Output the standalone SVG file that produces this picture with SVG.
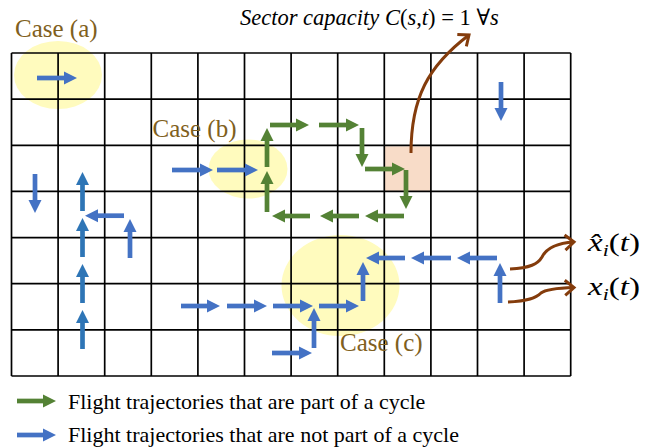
<svg xmlns="http://www.w3.org/2000/svg" width="668" height="448" viewBox="0 0 668 448">
<style>
.grid line{stroke:#000;stroke-width:1.7}
.b{stroke:#4472C4;stroke-width:4.7;marker-end:url(#hb)}
.d{stroke:#2E75B6;stroke-width:4.7;marker-end:url(#hd)}
.g{stroke:#548235;stroke-width:4.7;marker-end:url(#hg)}
.br{stroke:#843C0C;stroke-width:3;fill:none;marker-end:url(#hbr)}
.case{font-size:25px;fill:#7F6020}
.leg{font-size:22px;fill:#000}
.it{font-style:italic}
.hl{fill:#FFFBBE}
</style>
<defs>
<marker id="hb" markerUnits="userSpaceOnUse" markerWidth="14" markerHeight="14" refX="0" refY="7" orient="auto" overflow="visible"><path d="M0,0.5 L13,7 L0,13.5 z" fill="#4472C4"/></marker>
<marker id="hd" markerUnits="userSpaceOnUse" markerWidth="14" markerHeight="14" refX="0" refY="7" orient="auto" overflow="visible"><path d="M0,0.5 L13,7 L0,13.5 z" fill="#2E75B6"/></marker>
<marker id="hg" markerUnits="userSpaceOnUse" markerWidth="14" markerHeight="14" refX="0" refY="7" orient="auto" overflow="visible"><path d="M0,0.5 L13,7 L0,13.5 z" fill="#548235"/></marker>
<marker id="hbr" markerUnits="userSpaceOnUse" markerWidth="16" markerHeight="16" refX="8" refY="8" orient="auto" overflow="visible"><path d="M-1,0.5 L8,8 L-1,15.5" fill="none" stroke="#843C0C" stroke-width="3"/></marker>
</defs>

<g id="highlights">
<ellipse class="hl" cx="58" cy="75" rx="44" ry="34"/>
<ellipse class="hl" cx="248" cy="169" rx="39.5" ry="29.5"/>
<ellipse class="hl" cx="340.5" cy="285.5" rx="59" ry="50.5"/>
<rect id="sector" x="384.3" y="146.3" width="46.6" height="45.6" fill="#F8DCC8"/>
</g>

<g id="grid" class="grid">
<line x1="11.5" y1="53" x2="11.5" y2="376"/>
<line x1="58.1" y1="53" x2="58.1" y2="376"/>
<line x1="104.7" y1="53" x2="104.7" y2="376"/>
<line x1="151.3" y1="53" x2="151.3" y2="376"/>
<line x1="197.9" y1="53" x2="197.9" y2="376"/>
<line x1="244.5" y1="53" x2="244.5" y2="376"/>
<line x1="291.1" y1="53" x2="291.1" y2="376"/>
<line x1="337.7" y1="53" x2="337.7" y2="376"/>
<line x1="384.3" y1="53" x2="384.3" y2="376"/>
<line x1="430.9" y1="53" x2="430.9" y2="376"/>
<line x1="477.5" y1="53" x2="477.5" y2="376"/>
<line x1="524.1" y1="53" x2="524.1" y2="376"/>
<line x1="570.7" y1="53" x2="570.7" y2="376"/>
<line x1="11.5" y1="53" x2="570.7" y2="53"/>
<line x1="11.5" y1="99.1" x2="570.7" y2="99.1"/>
<line x1="11.5" y1="145.3" x2="570.7" y2="145.3"/>
<line x1="11.5" y1="191.4" x2="570.7" y2="191.4"/>
<line x1="11.5" y1="237.6" x2="570.7" y2="237.6"/>
<line x1="11.5" y1="283.7" x2="570.7" y2="283.7"/>
<line x1="11.5" y1="329.9" x2="570.7" y2="329.9"/>
<line x1="11.5" y1="376" x2="570.7" y2="376"/>
</g>

<g id="connectors">
<line class="b" x1="37" y1="78" x2="64" y2="78"/>
<line class="b" x1="172" y1="170" x2="200" y2="170"/>
<line class="b" x1="217" y1="170" x2="245" y2="170"/>
<line class="b" x1="501" y1="82" x2="501" y2="108"/>
<line class="b" x1="35" y1="174" x2="35" y2="200"/>
<line class="d" x1="82.5" y1="211" x2="82.5" y2="185"/>
<line class="d" x1="82.5" y1="257" x2="82.5" y2="231"/>
<line class="d" x1="82.5" y1="303" x2="82.5" y2="277"/>
<line class="d" x1="82.5" y1="349" x2="82.5" y2="323"/>
<line class="b" x1="124" y1="215.7" x2="98" y2="215.7"/>
<line class="b" x1="130" y1="258" x2="130" y2="232"/>
<line class="b" x1="181" y1="306" x2="207" y2="306"/>
<line class="b" x1="227" y1="306" x2="254" y2="306"/>
<line class="b" x1="273" y1="306" x2="300" y2="306"/>
<line class="b" x1="319" y1="306" x2="346" y2="306"/>
<line class="b" x1="314" y1="348" x2="314" y2="321"/>
<line class="b" x1="272" y1="353" x2="299" y2="353"/>
<line class="b" x1="363" y1="301" x2="363" y2="275"/>
<line class="b" x1="405" y1="258" x2="379" y2="258"/>
<line class="b" x1="451" y1="258" x2="424" y2="258"/>
<line class="b" x1="497" y1="258" x2="470" y2="258"/>
<line class="b" x1="500" y1="303" x2="500" y2="276"/>
<line class="g" x1="267" y1="167" x2="267" y2="141"/>
<line class="g" x1="267" y1="212" x2="267" y2="184"/>
<line class="g" x1="270" y1="125" x2="296" y2="125"/>
<line class="g" x1="319" y1="125" x2="346" y2="125"/>
<line class="g" x1="362" y1="128" x2="362" y2="154"/>
<line class="g" x1="365" y1="169" x2="392" y2="169"/>
<line class="g" x1="406" y1="170" x2="406" y2="196"/>
<line class="g" x1="404" y1="216" x2="378" y2="216"/>
<line class="g" x1="359" y1="216" x2="333" y2="216"/>
<line class="g" x1="310" y1="216" x2="285" y2="216"/>
<path class="br" d="M411,153 C411,98 428,66 469,35"/>
<path class="br" d="M510,269 C530,268 538,264 542,257 C547,247 558,243 574,242"/>
<path class="br" d="M508,302 C528,301 536,298 541,293 C546,289 558,288 574,287.5"/>
<line class="g" x1="17" y1="401" x2="43" y2="401"/>
<line class="b" x1="17" y1="435" x2="43" y2="435"/>
</g>

<g id="labels" font-family="Liberation Serif, Times New Roman, serif">
<text class="case" x="15" y="37">Case (a)</text>
<text class="case" x="152.5" y="136.5">Case (b)</text>
<text class="case" x="340" y="350.5">Case (c)</text>
<text x="240" y="25" font-size="22.5" font-family="Liberation Serif, DejaVu Serif, serif"><tspan class="it">Sector capacity C</tspan>(<tspan class="it">s</tspan>,<tspan class="it">t</tspan>) = 1 ∀<tspan class="it">s</tspan></text>
<text x="588" y="251" font-size="26" textLength="52" lengthAdjust="spacingAndGlyphs"><tspan class="it">x̂</tspan><tspan class="it" font-size="17" dy="5">i</tspan><tspan dy="-5">(</tspan><tspan class="it">t</tspan>)</text>
<text x="588" y="295" font-size="26" textLength="52" lengthAdjust="spacingAndGlyphs"><tspan class="it">x</tspan><tspan class="it" font-size="17" dy="5">i</tspan><tspan dy="-5">(</tspan><tspan class="it">t</tspan>)</text>
<text class="leg" x="68" y="408.5">Flight trajectories that are part of a cycle</text>
<text class="leg" x="68" y="441.5">Flight trajectories that are not part of a cycle</text>
</g>
</svg>
